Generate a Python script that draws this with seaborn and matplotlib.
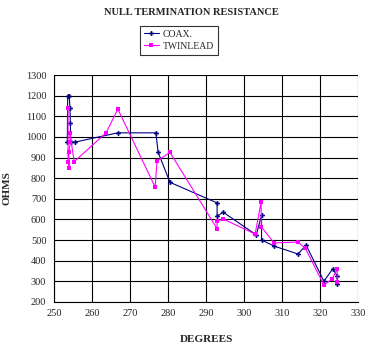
import pandas as pd
import matplotlib
matplotlib.use("Agg")
import matplotlib.pyplot as plt
import seaborn as sns

# ---- data ----
coax_deg = [253.5, 253.6, 254.0, 254.2, 254.3, 254.4, 255.5, 266.8, 276.8, 277.4,
            280.5, 292.9, 292.9, 294.5, 303.2, 304.6, 304.6, 308.0, 314.2, 316.3,
            321.0, 323.3, 324.5, 324.5]
coax_ohm = [975, 1200, 1200, 1140, 1070, 975, 975, 1020, 1020, 925,
            780, 680, 615, 635, 525, 620, 500, 470, 432, 476,
            300, 360, 326, 287]

twin_deg = [253.7, 253.7, 254.0, 253.9, 254.3, 254.2, 255.3, 263.7, 266.8, 276.6,
            277.1, 280.5, 292.9, 292.9, 294.5, 302.9, 304.5, 304.5, 307.9, 314.2,
            316.1, 321.0, 323.2, 324.5, 324.5]
twin_ohm = [1140, 880, 850, 925, 975, 1020, 880, 1020, 1135, 757,
            883, 925, 555, 590, 602, 529, 685, 565, 486, 490,
            460, 282, 311, 360, 297]

x_ticks = list(range(250, 331, 10))
y_ticks = list(range(200, 1301, 100))

coax = pd.DataFrame({'deg': coax_deg, 'ohm': coax_ohm})
twin = pd.DataFrame({'deg': twin_deg, 'ohm': twin_ohm})

# ---- plot ----
sns.set_style("white")
plt.rcParams['font.family'] = ['Liberation Serif', 'DejaVu Serif']

fig = plt.figure(figsize=(3.75, 3.51), dpi=100)
ax = fig.add_axes([0.144, 0.140, 0.811, 0.646])

sns.lineplot(data=coax, x='deg', y='ohm', sort=False, estimator=None, ax=ax,
             color='#000080', lw=0.8, marker='P', markersize=3.5,
             markeredgewidth=0, label='COAX.')
sns.lineplot(data=twin, x='deg', y='ohm', sort=False, estimator=None, ax=ax,
             color='#FF00FF', lw=0.8, marker='s', markersize=3.5,
             markeredgewidth=0, label='TWINLEAD')

ax.set_xlim(250, 330)
ax.set_ylim(200, 1300)
ax.set_xticks(x_ticks)
ax.set_yticks(y_ticks)
ax.grid(True, color='black', lw=0.8)
ax.set_axisbelow(True)
for s in ['top', 'right']:
    ax.spines[s].set_visible(False)
for s in ['left', 'bottom']:
    ax.spines[s].set_color('black')
    ax.spines[s].set_linewidth(0.8)
ax.tick_params(direction='inout', length=5, width=0.8, labelsize=7.5, pad=3)

ax.set_xlabel('DEGREES', fontsize=8, weight='bold', labelpad=12)
ax.set_ylabel('OHMS', fontsize=8, weight='bold', labelpad=10)
fig.text(0.51, 0.963, 'NULL TERMINATION RESISTANCE', ha='center', va='center',
         fontsize=7.5, weight='bold')

leg = ax.legend(loc='center', bbox_to_anchor=(0.411, 1.154), fontsize=7,
                frameon=True, fancybox=False, edgecolor='black',
                handlelength=1.6, handletextpad=0.4, borderpad=0.4,
                labelspacing=0.3)
leg.get_frame().set_linewidth(0.8)

fig.savefig('out.png', dpi=100)
